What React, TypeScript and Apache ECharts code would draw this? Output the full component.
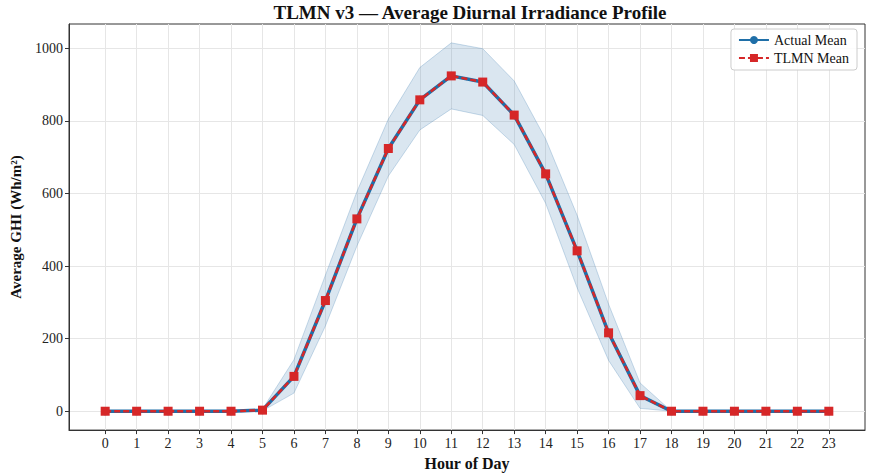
import React, { useEffect, useRef } from "react";
import * as echarts from "echarts";

// Hour-of-day profile of mean GHI (Wh/m²)
const hours = [0, 1, 2, 3, 4, 5, 6, 7, 8, 9, 10, 11, 12, 13, 14, 15, 16, 17, 18, 19, 20, 21, 22, 23];
const actualMean = [0, 0, 0, 0, 0, 3, 96, 305, 530, 724, 858, 924, 907, 816, 654, 442, 216, 43, 0, 0, 0, 0, 0, 0];
const tlmnMean = [0, 0, 0, 0, 0, 3, 96, 305, 530, 724, 858, 924, 907, 816, 654, 442, 216, 43, 0, 0, 0, 0, 0, 0];
// ±1 std envelope around the actual mean
const bandUpper = [0, 0, 0, 0, 0, 6, 142, 375, 605, 805, 947, 1015, 999, 910, 750, 540, 295, 78, 0, 0, 0, 0, 0, 0];
const bandLower = [0, 0, 0, 0, 0, 1, 50, 235, 455, 648, 775, 833, 815, 735, 573, 340, 140, 8, 0, 0, 0, 0, 0, 0];
const yTicks = [0, 200, 400, 600, 800, 1000];

const SERIF = "'Liberation Serif', 'Times New Roman', serif";

export default function App() {
  const ref = useRef<HTMLDivElement>(null);

  useEffect(() => {
    if (!ref.current) return;
    const chart = echarts.init(ref.current, undefined, { renderer: "svg" });

    const pairs = (vals: number[]) => hours.map((h, i) => [h, vals[i]]);
    const bandData = hours.map((h, i) => [h, bandLower[i], bandUpper[i]]);

    // Envelope drawn as one filled polygon through the axis scales
    const renderBand = (params: any, api: any) => {
      if (params.dataIndex !== 0) return null;
      const upperPts = hours.map((h, i) => api.coord([h, bandUpper[i]]));
      const lowerPts = hours.map((h, i) => api.coord([h, bandLower[i]]));
      const edge = { stroke: "rgba(70,130,180,0.28)", lineWidth: 1, fill: "none" };
      return {
        type: "group",
        children: [
          {
            type: "polygon",
            shape: { points: upperPts.concat(lowerPts.slice().reverse()) },
            style: { fill: "rgba(70,130,180,0.2)", stroke: "none" },
          },
          { type: "polyline", shape: { points: upperPts }, style: edge },
          { type: "polyline", shape: { points: lowerPts }, style: edge },
        ],
      };
    };

    chart.setOption({
      animation: false,
      backgroundColor: "#ffffff",
      textStyle: { fontFamily: SERIF },
      title: {
        text: "TLMN v3 — Average Diurnal Irradiance Profile",
        left: 465,
        textAlign: "center",
        top: -2,
        textStyle: { fontFamily: SERIF, fontWeight: "bold", fontSize: 19, color: "#111" },
      },
      legend: {
        data: ["Actual Mean", "TLMN Mean"],
        orient: "vertical",
        right: 15,
        top: 29,
        padding: [4, 8, 5, 7],
        itemWidth: 30,
        itemHeight: 10,
        itemGap: 4,
        borderColor: "#cccccc",
        borderWidth: 1,
        borderRadius: 3,
        backgroundColor: "rgba(255,255,255,0.85)",
        textStyle: { fontFamily: SERIF, fontSize: 14, color: "#111" },
      },
      grid: {
        left: 65,
        right: 7,
        top: 24,
        bottom: 45,
        show: true,
        borderColor: "#333",
        borderWidth: 1,
        backgroundColor: "#fff",
      },
      xAxis: {
        type: "value",
        min: -1.15,
        max: 24.15,
        name: "Hour of Day",
        nameLocation: "middle",
        nameGap: 22,
        nameTextStyle: { fontFamily: SERIF, fontWeight: "bold", fontSize: 16, color: "#111" },
        axisLine: { show: true, onZero: false, lineStyle: { color: "#333", width: 1 } },
        axisTick: { show: true, inside: false, length: 4, lineStyle: { color: "#333" }, customValues: hours },
        axisLabel: {
          customValues: hours,
          formatter: (v: number) => String(v),
          fontFamily: SERIF,
          fontSize: 14,
          color: "#222",
          margin: 6,
        },
        splitLine: { show: true, lineStyle: { color: "#e6e6e6", width: 1 } },
      },
      yAxis: {
        type: "value",
        min: -52,
        max: 1067,
        name: "Average GHI (Wh/m²)",
        nameLocation: "middle",
        nameGap: 46,
        nameTextStyle: { fontFamily: SERIF, fontWeight: "bold", fontSize: 15, color: "#111" },
        axisLine: { show: true, onZero: false, lineStyle: { color: "#333", width: 1 } },
        axisTick: { show: true, inside: false, length: 4, lineStyle: { color: "#333" }, customValues: yTicks },
        axisLabel: {
          customValues: yTicks,
          formatter: (v: number) => String(v),
          fontFamily: SERIF,
          fontSize: 14,
          color: "#222",
          margin: 6,
        },
        splitLine: { show: true, lineStyle: { color: "#e6e6e6", width: 1 } },
      },
      series: [
        {
          name: "band",
          type: "custom",
          data: bandData,
          encode: { x: 0, y: [1, 2] },
          renderItem: renderBand,
          silent: true,
          z: 1,
        },
        {
          name: "Actual Mean",
          type: "line",
          data: pairs(actualMean),
          symbol: "circle",
          symbolSize: 8,
          itemStyle: { color: "#1f6fa8" },
          lineStyle: { color: "#1f6fa8", width: 3.5 },
          z: 3,
        },
        {
          name: "TLMN Mean",
          type: "line",
          data: pairs(tlmnMean),
          symbol: "rect",
          symbolSize: 9,
          itemStyle: { color: "#d62728" },
          lineStyle: { color: "#d62728", width: 2.5, type: [6, 3] },
          z: 4,
        },
      ],
    });

    return () => chart.dispose();
  }, []);

  return <div ref={ref} style={{ width: 872, height: 476, position: "absolute", left: 0, top: 0 }} />;
}
